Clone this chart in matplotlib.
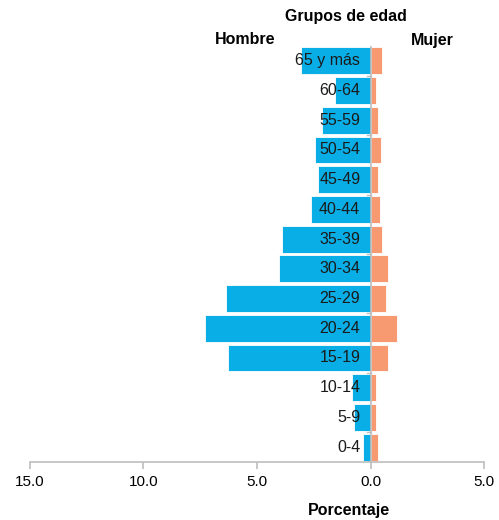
#!/usr/bin/env python3

import numpy as np
import matplotlib
matplotlib.use('Agg')
import matplotlib.pyplot as plt

plt.rcParams['font.family'] = ['Liberation Sans', 'DejaVu Sans']

grupos = ['0-4', '5-9', '10-14', '15-19', '20-24', '25-29', '30-34',
          '35-39', '40-44', '45-49', '50-54', '55-59', '60-64', '65 y más']
hombre = [0.35, 0.72, 0.81, 6.26, 7.27, 6.35, 4.02,
          3.89, 2.60, 2.32, 2.46, 2.14, 1.58, 3.05]
mujer = [0.31, 0.26, 0.26, 0.78, 1.17, 0.67, 0.78,
         0.50, 0.40, 0.35, 0.45, 0.35, 0.26, 0.50]
xticks = [-15, -10, -5, 0, 5]
xticklabels = ['15.0', '10.0', '5.0', '0.0', '5.0']

azul = '#0AAEE6'
salmon = '#F79A72'
gris = '#BDBDBD'

fig = plt.figure(figsize=(4.99, 5.2), dpi=100)
ax = fig.add_axes([30/499, 58/520, 454/499, 416/520])

y = np.arange(len(grupos))
ax.barh(y, [-v for v in hombre], height=0.9, color=azul, edgecolor='white', linewidth=0.6)
ax.barh(y, mujer, height=0.9, color=salmon, edgecolor='white', linewidth=0.6)

for yi, g in zip(y, grupos):
    ax.text(-0.45, yi, g, ha='right', va='center', fontsize=11.5, color='#1a1a1a')

ax.set_xlim(-15, 5)
ax.set_ylim(-0.5, 13.5)
ax.axvline(0, color=gris, lw=1.2, zorder=3)

for s in ['top', 'right', 'left']:
    ax.spines[s].set_visible(False)
ax.spines['bottom'].set_color(gris)
ax.spines['bottom'].set_linewidth(1.2)

ax.set_yticks([])
ax.set_xticks(xticks)
ax.set_xticklabels(xticklabels, fontsize=11)
ax.tick_params(axis='x', length=5, width=1.2, color=gris, pad=4)

# pequeñas marcas sobre el eje vertical
for b in np.arange(0.5, 13.5, 2):
    ax.plot([-0.15, 0], [b, b], color=gris, lw=1, zorder=3)

fig.text(346/499, 1 - 16/520, 'Grupos de edad', ha='center', va='center',
         fontsize=11.5, fontweight='bold')
fig.text(245/499, 1 - 40/520, 'Hombre', ha='center', va='center',
         fontsize=11.5, fontweight='bold')
fig.text(432/499, 1 - 40/520, 'Mujer', ha='center', va='center',
         fontsize=11.5, fontweight='bold')
fig.text(349/499, 1 - 510/520, 'Porcentaje', ha='center', va='center',
         fontsize=11.5, fontweight='bold')

fig.savefig('out.png', dpi=100)
plt.close(fig)
